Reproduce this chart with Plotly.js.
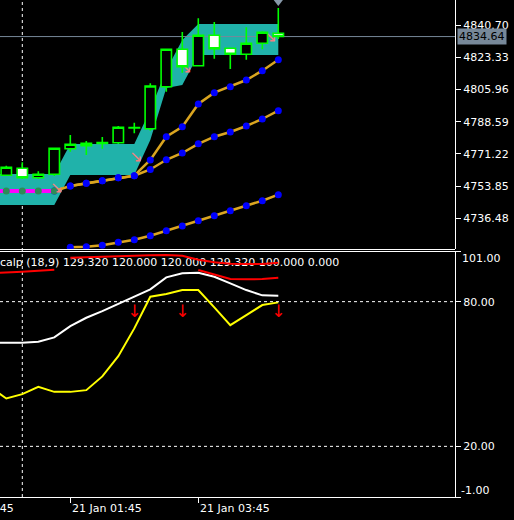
<!DOCTYPE html>
<html><head><meta charset="utf-8">
<script src="https://cdn.plot.ly/plotly-3.0.1.min.js"></script>
<style>html,body{margin:0;padding:0;background:#000;overflow:hidden}#chart{width:514px;height:520px}</style>
</head><body><div id="chart"></div>
<script>
// ---- candles (15-minute bars, index 0 = 21 Jan 00:45) ----
const bars   = [0,1,2,3,4,5,6,7,8,9,10,11,12,13,14,15,16,17];
const openP  = [4759.67,4763.45,4758.37,4760.21,4774.05,4776.96,4776.86,4777.29,4785.29,4784.85,4807.55,4827.76,4818.90,4835.33,4828.30,4825.06,4831.00,4836.41];
const highP  = [4764.86,4766.70,4761.83,4774.40,4781.45,4778.21,4780.37,4786.31,4788.10,4809.39,4827.90,4837.11,4844.51,4842.51,4828.50,4839.65,4837.50,4850.08];
const lowP   = [4759.29,4757.67,4757.67,4759.29,4772.42,4770.64,4774.05,4776.59,4782.37,4783.77,4804.85,4815.12,4818.70,4822.68,4817.12,4822.14,4827.76,4833.33];
const closeP = [4763.99,4758.37,4760.21,4774.26,4776.42,4775.67,4777.40,4785.61,4785.50,4807.93,4827.76,4818.36,4835.33,4828.09,4825.06,4831.00,4836.95,4834.64];

// ---- indicator buffers (index -1 .. 17) ----
const lineBars  = [-1,0,1,2,3,4,5,6,7,8,9,10,11,12,13,14,15,16,17];
const bandUpper = [4760.37,4760.37,4760.37,4760.37,4760.37,4776.59,4776.59,4776.59,4776.59,4776.59,4794.96,4816.57,4832.79,4841.43,4841.43,4841.43,4841.43,4841.43,4841.43];
const bandLower = [4743.62,4743.62,4743.62,4743.62,4743.62,4759.83,4759.83,4759.83,4759.83,4759.83,4778.75,4806.85,4808.47,4824.68,4824.68,4824.68,4824.68,4824.68,4824.68];
const maFast = [4751.19,4751.19,4751.19,4751.19,4751.19,4753.89,4755.35,4756.75,4758.37,4759.46,4767.94,4780.53,4785.93,4798.20,4804.31,4807.55,4811.17,4816.20,4822.14];
const maMid  = [null,null,null,null,null,4753.89,4755.35,4756.75,4758.37,4759.46,4762.81,4768.05,4771.72,4776.69,4780.53,4783.07,4786.31,4790.10,4794.58];
const maSlow = [null,null,null,null,null,4720.76,4721.09,4721.84,4723.46,4724.87,4727.03,4729.73,4732.27,4735.14,4737.84,4740.54,4743.24,4745.94,4749.19];

const oscWhite    = [62.93,62.93,62.93,63.35,65.18,69.87,73.31,76.09,78.99,82.03,85.10,90.08,91.74,91.99,90.33,87.59,84.81,82.61,82.44];
const oscYellow   = [44.63,39.85,41.64,44.67,42.59,42.59,43.30,49.00,57.41,68.91,82.03,83.15,84.81,84.81,77.63,70.28,74.43,78.58,79.70];
const redUpperBars = [4,5,6,7,8,9,10,11,12,13,14,15,16,17];
const oscRedUpper  = [98.22,98.38,98.63,98.80,99.05,99.21,99.34,99.05,97.39,96.31,95.73,95.60,95.60,96.14];
const oscRedLower = [91.87,92.08,92.41,92.82,93.24,null,null,null,null,null,null,null,null,93.11,91.24,89.38,89.25,89.38,89.92];

// ---- labels / levels ----
const priceTicks    = [4840.70,4823.33,4805.96,4788.59,4771.22,4753.85,4736.48];
const priceTickText = ['4840.70','4823.33','4805.96','4788.59','4771.22','4753.85','4736.48'];
const oscTicks      = [101,80,20,-1];
const oscTickText   = ['101.00','80.00','20.00','-1.00'];
const timeTickBars  = [-4,4,12];
const timeTickText  = ['20 Jan 23:45','21 Jan 01:45','21 Jan 03:45'];
const bid = 4834.64;
const separatorBar = 1;
const levelLines = [80,20];
const sellArrowBars = [8,11,17];
const sellArrowLevel = 75.3;
const markBars   = [3.15,8.1,11.2,16.5];
const markPrices = [4752.3,4769.0,4817.1,4833.9];
const topMarkBar = 17, topMarkPrice = 4853.3;
const indicatorLabel = 'calp (18,9) 129.320 120.000 120.000 129.320 100.000 0.000';

// ---- layout geometry ----
const W=514,H=520,R=59,B=23;
const plotH = H-B;                // 497
const topBottomPx = 249, botTopPx = 251;
const xRange = [-0.394, 28.044];
const priceRange = [4719.84, 4854.4];
const oscRange = [-1, 101];
const topDom = [(plotH-topBottomPx)/plotH, 1];
const botDom = [0, (plotH-botTopPx)/plotH];
const FONT = 'DejaVu Sans';
const xToPaper = b => (b-xRange[0])/(xRange[1]-xRange[0]);
const pxToPaperY = py => (plotH-py)/plotH;
const oscPxPerUnit = (plotH-botTopPx)/(oscRange[1]-oscRange[0]);
const pxToOsc = py => oscRange[1]-(py-botTopPx)/oscPxPerUnit;

const orange='#DAA520', blue='#0000FF', teal='#20B2AA';
const traces = [
  {x:lineBars,y:bandLower,type:'scatter',mode:'lines',line:{width:0,color:teal},xaxis:'x',yaxis:'y',hoverinfo:'skip'},
  {x:lineBars,y:bandUpper,type:'scatter',mode:'lines',fill:'tonexty',fillcolor:teal,line:{width:0,color:teal},xaxis:'x',yaxis:'y',hoverinfo:'skip'},
  {x:xRange,y:[bid,bid],type:'scatter',mode:'lines',line:{color:'#778899',width:1},xaxis:'x',yaxis:'y'},
  {x:lineBars,y:maSlow,type:'scatter',mode:'lines+markers',line:{color:orange,width:2.5},marker:{color:blue,size:7},xaxis:'x',yaxis:'y'},
  {x:lineBars,y:maMid,type:'scatter',mode:'lines+markers',line:{color:orange,width:2.5},marker:{color:blue,size:7},xaxis:'x',yaxis:'y'},
  {x:lineBars.slice(4),y:maFast.slice(4),type:'scatter',mode:'lines+markers',line:{color:orange,width:2.5},marker:{color:blue,size:7},xaxis:'x',yaxis:'y'},
  {x:lineBars.slice(0,5),y:maFast.slice(0,5),type:'scatter',mode:'lines+markers',line:{color:'#FF00FF',width:4},marker:{color:'#2E8B57',size:7},xaxis:'x',yaxis:'y'},
  {x:[topMarkBar],y:[topMarkPrice],type:'scatter',mode:'markers',marker:{symbol:'triangle-down',color:'#8899AA',size:8},xaxis:'x',yaxis:'y'},
  {x:markBars,y:markPrices,type:'scatter',mode:'text',text:markBars.map(()=>'↘'),
    textfont:{family:FONT,size:16,color:'#F08080'},textposition:'middle center',xaxis:'x',yaxis:'y'},
  {x:bars,open:openP,high:highP,low:lowP,close:closeP,type:'candlestick',xaxis:'x',yaxis:'y3',whiskerwidth:0,
    increasing:{line:{color:'#00FF00',width:1.6},fillcolor:'#000000'},
    decreasing:{line:{color:'#00FF00',width:1.6},fillcolor:'#FFFFFF'},hoverinfo:'skip'},
  {x:lineBars,y:oscWhite,type:'scatter',mode:'lines',line:{color:'#FFFFFF',width:2},xaxis:'x',yaxis:'y2'},
  {x:lineBars,y:oscYellow,type:'scatter',mode:'lines',line:{color:'#FFFF00',width:2},xaxis:'x',yaxis:'y2'},
  {x:[xRange[0]+0.0005],y:[pxToOsc(263)],type:'scatter',mode:'text',text:[indicatorLabel],textposition:'middle right',
    textfont:{family:FONT,size:11,color:'#FFFFFF'},xaxis:'x',yaxis:'y2'},
  {x:lineBars,y:oscRedLower,type:'scatter',mode:'lines',line:{color:'#FF0000',width:2},xaxis:'x',yaxis:'y2'},
  {x:sellArrowBars,y:sellArrowBars.map(()=>sellArrowLevel),type:'scatter',mode:'text',text:sellArrowBars.map(()=>'↓'),
    textfont:{family:FONT,size:17,color:'#FF0000'},textposition:'middle center',xaxis:'x',yaxis:'y2'}
];

// upper red buffer drawn as a data-referenced path in the top layer, so it sits over the indicator label
const redUpperPath = redUpperBars.map((b,i)=>(i?'L':'M')+b+','+oscRedUpper[i]).join(' ');

const shapes = [
  {type:'line',xref:'paper',yref:'paper',x0:0,x1:1,y0:pxToPaperY(topBottomPx+0.5),y1:pxToPaperY(topBottomPx+0.5),line:{color:'#FFFFFF',width:1}},
  {type:'line',xref:'paper',yref:'paper',x0:0,x1:1,y0:pxToPaperY(botTopPx+0.5),y1:pxToPaperY(botTopPx+0.5),line:{color:'#FFFFFF',width:1}},
  {type:'line',xref:'x',yref:'paper',x0:separatorBar,x1:separatorBar,y0:0,y1:1,layer:'below',line:{color:'#FFFFFF',width:1,dash:'3px,3px'}},
  {type:'path',xref:'x',yref:'y2',path:redUpperPath,layer:'above',line:{color:'#FF0000',width:2}}
];
levelLines.forEach(v=>shapes.push({type:'line',xref:'paper',yref:'y2',x0:0,x1:1,y0:v,y1:v,line:{color:'#FFFFFF',width:1,dash:'3px,3px'}}));

const annotations = [];
timeTickBars.forEach((b,i)=>annotations.push({xref:'paper',yref:'paper',x:xToPaper(b),y:pxToPaperY(508),xanchor:'left',yanchor:'middle',
  text:timeTickText[i],showarrow:false,font:{family:FONT,size:11,color:'#FFFFFF'}}));
annotations.push({xref:'paper',yref:'y',x:1,xshift:2,y:bid,xanchor:'left',yanchor:'middle',text:bid.toFixed(2),showarrow:false,
  bgcolor:'#778899',borderpad:1,font:{family:FONT,size:11,color:'#000000'}});
annotations.push({xref:'paper',yref:'paper',x:1,xshift:5,y:pxToPaperY(258),xanchor:'left',yanchor:'middle',text:oscTickText[0],showarrow:false,font:{family:FONT,size:11,color:'#FFFFFF'}});
annotations.push({xref:'paper',yref:'paper',x:1,xshift:4,y:pxToPaperY(490),xanchor:'left',yanchor:'middle',text:oscTickText[3],showarrow:false,font:{family:FONT,size:11,color:'#FFFFFF'}});

const layout = {
  width:W,height:H,margin:{l:0,r:R,t:0,b:B,pad:0},
  paper_bgcolor:'#000000',plot_bgcolor:'#000000',showlegend:false,
  font:{family:FONT,size:11,color:'#FFFFFF'},
  xaxis:{range:xRange,anchor:'y2',domain:[0,1],showgrid:false,zeroline:false,showline:true,linecolor:'#FFFFFF',linewidth:1,
    ticks:'outside',ticklen:5,tickcolor:'#FFFFFF',tickvals:timeTickBars,showticklabels:false,rangeslider:{visible:false},fixedrange:true},
  yaxis:{domain:topDom,range:priceRange,side:'right',anchor:'x',showgrid:false,zeroline:false,showline:true,linecolor:'#FFFFFF',linewidth:1,
    ticks:'outside',ticklen:5,tickcolor:'#FFFFFF',tickvals:priceTicks,ticktext:priceTickText,tickfont:{family:FONT,size:11,color:'#FFFFFF'}},
  yaxis3:{overlaying:'y',range:priceRange,visible:false,showgrid:false,zeroline:false},
  yaxis2:{domain:botDom,range:oscRange,side:'right',anchor:'x',showgrid:false,zeroline:false,showline:true,linecolor:'#FFFFFF',linewidth:1,
    ticks:'outside',ticklen:5,tickcolor:'#FFFFFF',tickvals:oscTicks,ticktext:['',oscTickText[1],oscTickText[2],''],tickfont:{family:FONT,size:11,color:'#FFFFFF'}},
  boxgap:0.35,boxgroupgap:0,
  shapes:shapes,annotations:annotations,hovermode:false
};
Plotly.newPlot('chart',traces,layout,{staticPlot:true,displayModeBar:false});
</script></body></html>
